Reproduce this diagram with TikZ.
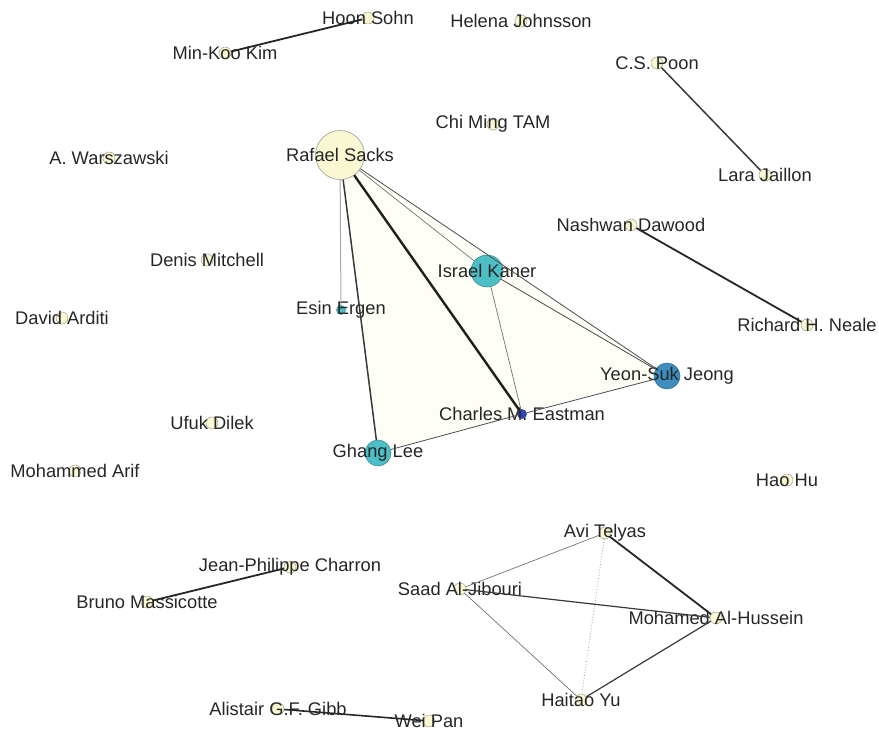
\documentclass[tikz,border=0pt]{standalone}
\usepackage{fontspec}
\setmainfont{Liberation Sans}
\usetikzlibrary{backgrounds}
\definecolor{paleyellow}{HTML}{FAF8D2}
\definecolor{nodeteal}{HTML}{4CBEC6}
\definecolor{nodesteel}{HTML}{3D8DBF}
\definecolor{nodeblue}{HTML}{2F43B8}
\definecolor{ringgray}{HTML}{A0A088}
\definecolor{clusterfill}{HTML}{FEFEF6}
\tikzset{
  person/.style={circle, draw=ringgray, line width=0.5pt, fill=paleyellow, inner sep=0pt, minimum size=12pt},
  hub/.style={person, draw=black!45},
  every label/.style={text=black!85, font=\fontsize{18.3}{21}\selectfont},
  faintlink/.style={draw=black!40, line width=0.8pt, dotted},
  lighttie/.style={draw=black!55, line width=0.7pt},
  tie/.style={draw=black!70, line width=0.8pt},
  midtie/.style={draw=black!78, line width=1.2pt},
  strongtie/.style={draw=black!85, line width=1.8pt},
  heavytie/.style={draw=black!88, line width=2.4pt}
}

\begin{document}
\begin{tikzpicture}[x=1pt, y=-1pt]
    \useasboundingbox (0,0) rectangle (879,736);

    % people
    \node[person, label=center:{Hoon Sohn}] (HS) at (368,18) {};
    \node[person, label=center:{Min-Koo Kim}] (MK) at (225,53) {};
    \node[person, label=center:{Helena Johnsson}] (HJ) at (521,21) {};
    \node[person, label=center:{C.S. Poon}] (CP) at (657,63) {};
    \node[person, label=center:{Lara Jaillon}] (LJ) at (765,175) {};
    \node[person, label=center:{Chi Ming TAM}] (CT) at (493,124) {};
    \node[person, label=center:{A. Warszawski}] (AW) at (109,158) {};
    \node[hub, minimum size=49pt, label=center:{Rafael Sacks}] (RS) at (340,155) {};
    \node[person, label=center:{Denis Mitchell}] (DM) at (207,260) {};
    \node[person, label=center:{Nashwan Dawood}] (ND) at (631,225) {};
    \node[person, fill=nodeteal, draw=nodeteal!70!black, minimum size=32pt, label=center:{Israel Kaner}] (IK) at (487,271) {};
    \node[person, fill=nodeteal, draw=nodeteal!70!black, minimum size=9pt, label=center:{Esin Ergen}] (EE) at (341,310) {};
    \node[person, label=center:{David Arditi}] (DA) at (62,318) {};
    \node[person, label=center:{Richard H. Neale}] (RN) at (807,325) {};
    \node[person, fill=nodesteel, draw=nodesteel!70!black, minimum size=26pt, label=center:{Yeon-Suk Jeong}] (YJ) at (667,376) {};
    \node[person, fill=nodeblue, draw=nodeblue!70!black, minimum size=9pt, label=center:{Charles M. Eastman}] (CE) at (522,414) {};
    \node[person, label=center:{Ufuk Dilek}] (UD) at (212,423) {};
    \node[person, fill=nodeteal, draw=nodeteal!70!black, minimum size=26pt, label=center:{Ghang Lee}] (GL) at (378,453) {};
    \node[person, label=center:{Mohammed Arif}] (MA) at (75,471) {};
    \node[person, label=center:{Hao Hu}] (HH) at (787,480) {};
    \node[person, label=center:{Avi Telyas}] (AT) at (605,533) {};
    \node[person, label=center:{Saad Al-Jibouri}] (SJ) at (460,589) {};
    \node[person, label=center:{Mohamed Al-Hussein}] (MH) at (716,618) {};
    \node[person, label=center:{Haitao Yu}] (HY) at (581,700) {};
    \node[person, label=center:{Jean-Philippe Charron}] (JC) at (290,567) {};
    \node[person, label=center:{Bruno Massicotte}] (BM) at (147,602) {};
    \node[person, label=center:{Alistair G.F. Gibb}] (AG) at (278,709) {};
    \node[person, label=center:{Wei Pan}] (WP) at (429,721) {};

    % shaded cluster
    \begin{scope}[on background layer]
        \fill[clusterfill] (RS.center) -- (YJ.center) -- (CE.center) -- (GL.center) -- cycle;
    \end{scope}

    % pairs
    \draw[strongtie] (HS) -- (MK);
    \draw[midtie, line width=1.5pt] (CP) -- (LJ);
    \draw[strongtie] (ND) -- (RN);
    \draw[strongtie] (JC) -- (BM);
    \draw[strongtie, line width=1.6pt] (AG) -- (WP);

    % main group
    \draw[draw=black!35, line width=1pt] (RS) -- (EE);
    \draw[midtie, line width=1.5pt] (RS) -- (GL);
    \draw[heavytie] (RS) -- (CE);
    \draw[lighttie] (RS) -- (IK);
    \draw[tie] (RS) -- (YJ);
    \draw[tie] (IK) -- (YJ);
    \draw[lighttie] (IK) -- (CE);
    \draw[tie] (CE) -- (YJ);
    \draw[tie] (CE) -- (GL);

    % lower group
    \draw[lighttie] (AT) -- (SJ);
    \draw[strongtie] (AT) -- (MH);
    \draw[faintlink] (AT) -- (HY);
    \draw[midtie] (SJ) -- (MH);
    \draw[lighttie] (SJ) -- (HY);
    \draw[midtie] (HY) -- (MH);
\end{tikzpicture}
\end{document}
